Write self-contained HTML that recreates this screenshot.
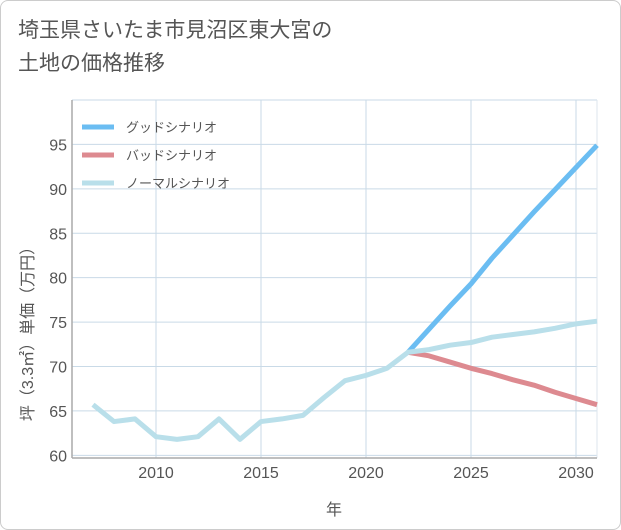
<!DOCTYPE html>
<html><head><meta charset="utf-8"><style>
body{margin:0;background:#fff;font-family:"Liberation Sans","Noto Sans CJK JP",sans-serif;}
.card{position:absolute;left:0;top:0;width:619px;height:528px;border:1px solid #ccc;border-radius:8px;background:#fff;}
.title{position:absolute;left:18px;top:14px;font-size:21px;line-height:33px;color:#555;}
</style></head><body>
<div class="card"></div>
<div class="title">埼玉県さいたま市見沼区東大宮の<br>土地の価格推移</div>
<svg width="621" height="530" style="position:absolute;left:0;top:0" id="chart">
<g id="grid"></g><g id="axes"></g><g id="series"></g><g id="legend"></g>
<text x="334" y="515" font-size="16" fill="#555" text-anchor="middle">年</text>
<text transform="translate(33,330) rotate(-90)" font-size="16" fill="#555" text-anchor="middle">坪（3.3㎡）単価（万円）</text>
</svg>
<script>
const years=[2007,2008,2009,2010,2011,2012,2013,2014,2015,2016,2017,2018,2019,2020,2021,2022,2023,2024,2025,2026,2027,2028,2029,2030,2031];
const normal=[65.7,63.8,64.1,62.1,61.8,62.1,64.1,61.8,63.8,64.1,64.5,66.5,68.4,69.0,69.8,71.6,71.9,72.4,72.7,73.3,73.6,73.9,74.3,74.8,75.1];
const goodYears=[2022,2023,2024,2025,2026,2027,2028,2029,2030,2031];
const good=[71.6,74.2,76.8,79.3,82.2,84.8,87.4,89.9,92.4,94.9];
const bad=[71.6,71.2,70.5,69.8,69.2,68.5,67.9,67.1,66.4,65.7];
const xTicks=[2010,2015,2020,2025,2030];
const yTicks=[60,65,70,75,80,85,90,95];
const L=72,R=597,T=100,B=458,x0=2006,x1=2031,y0=59.7,y1=100;
const X=v=>L+(v-x0)/(x1-x0)*(R-L);
const Y=v=>B-(v-y0)/(y1-y0)*(B-T);
const NS='http://www.w3.org/2000/svg';
function mk(p,t,a){const e=document.createElementNS(NS,t);for(const k in a)e.setAttribute(k,a[k]);p.appendChild(e);return e;}
const grid=document.getElementById('grid'),axes=document.getElementById('axes'),ser=document.getElementById('series'),leg=document.getElementById('legend');
mk(grid,'rect',{x:L,y:T,width:R-L,height:B-T,fill:'#fff',stroke:'none'});
xTicks.forEach(v=>{const l=mk(grid,'line',{x1:X(v),x2:X(v),y1:T,y2:B,stroke:'#c9dae7','stroke-width':1});

});
yTicks.concat([100]).forEach(v=>{const l=mk(grid,'line',{x1:L,x2:R,y1:Y(v),y2:Y(v),stroke:'#c9dae7','stroke-width':1});

});
mk(grid,'line',{x1:R,x2:R,y1:T,y2:B,stroke:'#dde6ee'});
const ax1=mk(axes,'line',{x1:L,x2:L,y1:T,y2:B,stroke:'#aaa','stroke-width':1.5});


const ax2=mk(axes,'line',{x1:L,x2:R,y1:B,y2:B,stroke:'#aaa','stroke-width':1.5});


xTicks.forEach(v=>{const t=mk(axes,'text',{x:X(v),y:478,'font-size':16,fill:'#555','text-anchor':'middle'});t.textContent=v;

});
yTicks.forEach(v=>{const t=mk(axes,'text',{x:67,y:Y(v)+6,'font-size':16,fill:'#555','text-anchor':'end'});t.textContent=v;

});
function line(xs,ys,c,n){const p=mk(ser,'polyline',{points:xs.map((x,i)=>X(x)+','+Y(ys[i])).join(' '),fill:'none',stroke:c,'stroke-width':5,'stroke-linejoin':'round'});

}
line(goodYears,good,'#6bbdf2','good-scenario-line');
line(goodYears,bad,'#dd8a90','bad-scenario-line');
line(years,normal,'#b9dfea','normal-scenario-line');
[['グッドシナリオ','#6bbdf2'],['バッドシナリオ','#dd8a90'],['ノーマルシナリオ','#b9dfea']].forEach((d,i)=>{
const y=127+i*28;
const g=mk(leg,'g',{});


mk(g,'line',{x1:82,x2:114,y1:y,y2:y,stroke:d[1],'stroke-width':5});
const t=mk(g,'text',{x:126,y:y+5,'font-size':13,fill:'#555'});t.textContent=d[0];});
</script>
</body></html>
